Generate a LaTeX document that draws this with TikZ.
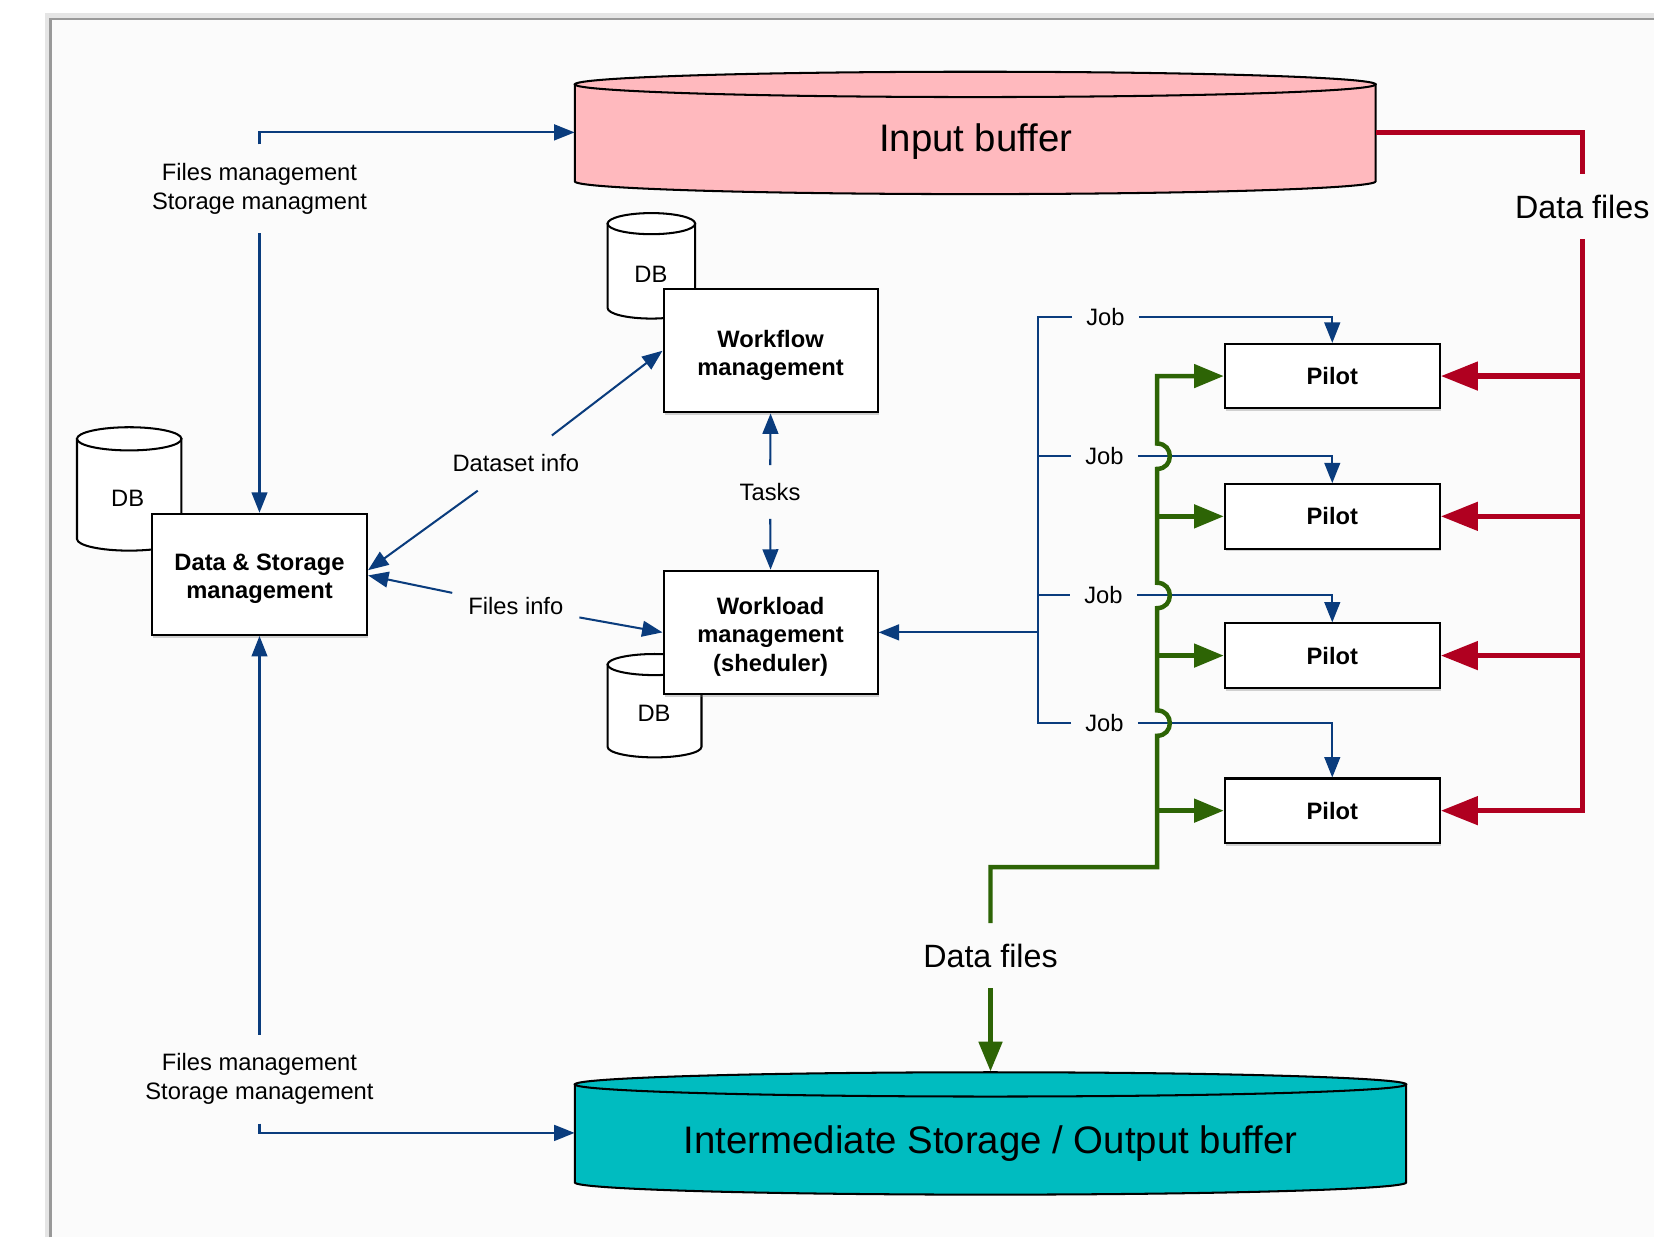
\documentclass[tikz,border=0pt]{standalone}
\usepackage{fontspec}
\setmainfont{Liberation Sans}
\usetikzlibrary{arrows.meta,shadows,calc}

\definecolor{flowblue}{HTML}{0A3C7D}
\definecolor{flowred}{HTML}{B00020}
\definecolor{flowgreen}{HTML}{2D6405}
\definecolor{inpink}{HTML}{FFB9BE}
\definecolor{outteal}{HTML}{00BCC0}
\definecolor{pagebg}{HTML}{FBFBFB}

% cylinder: #1 fill, #2 left x, #3 right x, #4 top centre y, #5 bottom centre y, #6 half height of the ends
\newcommand{\drumshape}[6]{%
  \pgfmathsetmacro{\drumrx}{(#3-#2)/2}%
  \pgfmathsetmacro{\drumcx}{(#3+#2)/2}%
  \filldraw[drumline, fill=#1] (#2,#4) -- (#2,#5)
    arc[start angle=180, end angle=0, x radius=\drumrx, y radius=#6] -- (#3,#4) -- cycle;
  \filldraw[drumline, fill=#1] (\drumcx,#4) ellipse[x radius=\drumrx, y radius=#6];
}

\tikzset{
  drumline/.style={draw=black, line width=1.1pt},
  txt/.style={font=\fontsize{12.8}{15.6}\selectfont, inner sep=0pt},
  bigtxt/.style={font=\fontsize{20.7}{24}\selectfont, inner sep=0pt},
  dftxt/.style={font=\fontsize{17.4}{20}\selectfont, inner xsep=0pt},
  box/.style={draw=black, line width=1.1pt, fill=white, align=center, inner sep=0pt,
    font=\fontsize{12.8}{15.3}\selectfont\bfseries,
    drop shadow={shadow xshift=0.6pt, shadow yshift=-1.6pt, opacity=0.35}},
  boxtxt/.style={align=center, inner sep=0pt, font=\fontsize{12.8}{15.3}\selectfont\bfseries},
  pilotbox/.style={box, minimum width=4.08cm, minimum height=1.22cm},
  bline/.style={draw=flowblue, line width=1.1pt},
  btip/.tip={Triangle[length=11pt, width=8.5pt]},
  barrow/.style={bline, -btip},
  gline/.style={draw=flowgreen, line width=2.4pt},
  gtip/.tip={Triangle[length=16pt, width=12.5pt]},
  garrow/.style={gline, -gtip},
  rline/.style={draw=flowred, line width=3pt},
  rtip/.tip={Triangle[length=20pt, width=15pt]},
  rarrow/.style={rline, -rtip},
}

\begin{document}
\begin{tikzpicture}[x=0.02cm, y=-0.02cm]
\useasboundingbox (0,0) rectangle (1568,1173);
\fill[white] (0,0) rectangle (1568,1173);

% sheet
\fill[pagebg] (48,18) rectangle (1568,1173);
\draw[black!10, line width=3pt] (45,1173) -- (45,15) -- (1568,15);
\draw[black!40, line width=1.4pt] (48,1173) -- (48,18) -- (1568,18);

% storage drums
\drumshape{inpink}{545}{1304}{80}{172}{12}
\drumshape{outteal}{545}{1333}{1028}{1121}{11.5}
\drumshape{white}{73}{172}{416}{511}{11}
\drumshape{white}{576}{659}{212}{292}{10}
\drumshape{white}{576}{665}{630}{708}{10}

\node[minimum width=15.18cm, minimum height=2.3cm, inner sep=0pt] (inbuf) at (924.5,125.5) {};
\node[bigtxt] (inbuflabel) at (925,134) {Input buffer};
\node[minimum width=15.76cm, minimum height=2.32cm, inner sep=0pt] (outbuf) at (939,1074) {};
\node[bigtxt] (outbuflabel) at (939,1084) {Intermediate Storage / Output buffer};

\node[txt] (db1) at (121,472) {DB};
\node[txt] (db2) at (617,260) {DB};
\node[txt] (db3) at (620,676) {DB};

% components
\node[box, minimum width=4.08cm, minimum height=2.3cm] (ds) at (246,544.5) {};
\node[boxtxt] (dstext) at ([yshift=-2.5pt]ds.center) {Data \& Storage\\management};
\node[box, minimum width=4.06cm, minimum height=2.34cm] (wf) at (730.5,332.5) {};
\node[boxtxt] (wftext) at ([yshift=-2.5pt]wf.center) {Workflow\\management};
\node[box, minimum width=4.06cm, minimum height=2.34cm] (wl) at (730.5,599.5) {};
\node[boxtxt] (wltext) at ([yshift=-2.3pt]wl.center) {Workload\\management\\(sheduler)};

\node[pilotbox] (p1) at (1263,356.5) {Pilot};
\node[pilotbox] (p2) at (1263,489.5) {Pilot};
\node[pilotbox] (p3) at (1263,621.5) {Pilot};
\node[pilotbox] (p4) at (1263,768.5) {Pilot};

% connector labels
\node[txt, align=center, inner ysep=10pt] (fmtop) at (246,179) {Files management\\Storage managment};
\node[txt, align=center, inner ysep=10pt] (fmbot) at (246,1023) {Files management\\Storage management};
\node[txt, inner xsep=2pt, inner ysep=10pt] (dsinfo) at (489,439) {Dataset info};
\node[txt, inner xsep=8.5pt, inner ysep=5pt] (finfo) at (489,574.5) {Files info};
\node[txt, inner ysep=9.6pt] (tasks) at (730,466.5) {Tasks};
\node[txt, inner xsep=7.5pt, inner ysep=3pt] (job1) at (1048,300.5) {Job};
\node[txt, inner xsep=7.5pt, inner ysep=3pt] (job2) at (1047,432.5) {Job};
\node[txt, inner xsep=7.5pt, inner ysep=3pt] (job3) at (1046,564.5) {Job};
\node[txt, inner xsep=7.5pt, inner ysep=3pt] (job4) at (1047,685.5) {Job};
\node[dftxt, inner ysep=11pt] (dfin) at (1500,196) {Data files};
\node[dftxt, inner ysep=11pt] (dfout) at (939,906) {Data files};

% file and storage management
\draw[barrow] (fmtop.north) |- (inbuf.west);
\draw[barrow] (fmtop.south) -- (ds.north);
\draw[barrow] (fmbot.north) -- (ds.south);
\draw[barrow] (fmbot.south) |- (outbuf.west);

% information exchange between services
\draw[barrow] (dsinfo) -- (wf.west);
\draw[barrow] (dsinfo) -- ($(ds.east)+(0,-4)$);
\draw[barrow] (finfo) -- ($(ds.east)+(0,1)$);
\draw[barrow] (finfo) -- (wl.west);
\draw[barrow] (tasks) -- (wf.south);
\draw[barrow] (tasks) -- (wl.north);

% job dispatch bus
\coordinate (bus) at (984,599.5);
\draw[barrow] (bus) -- (wl.east);
\draw[bline] (job1.west) -| (bus);
\draw[bline] (job4.west) -| (bus);
\draw[bline] (job2.west) -- (job2.west -| bus);
\draw[bline] (job3.west) -- (job3.west -| bus);
\draw[barrow] (job1.east) -| (p1.north);
\draw[barrow] (job2.east) -| (p2.north);
\draw[barrow] (job3.east) -| (p3.north);
\draw[barrow] (job4.east) -| (p4.north);

% output data path (jumps over the job lines)
\coordinate (gx) at (1097,0);
\coordinate (gcorner) at (1097,822);
\draw[gline, gtip-, line join=miter] (p1.west) -- (p1.west -| gx)
  -- ($(job2.west -| gx)+(0,-12)$) .. controls +(16,0) and +(16,0) .. ($(job2.west -| gx)+(0,12)$)
  -- ($(job3.west -| gx)+(0,-12)$) .. controls +(16,0) and +(16,0) .. ($(job3.west -| gx)+(0,12)$)
  -- ($(job4.west -| gx)+(0,-12)$) .. controls +(16,0) and +(16,0) .. ($(job4.west -| gx)+(0,12)$)
  -- (gcorner) -| (dfout.north);
\draw[garrow] (p2.west -| gx) -- (p2.west);
\draw[garrow] (p3.west -| gx) -- (p3.west);
\draw[garrow] (p4.west -| gx) -- (p4.west);
\draw[garrow] (dfout.south) -- (outbuf.north);

% input data path
\draw[rline] (inbuf.east) -| (dfin.north);
\draw[rline, rtip-] (p4.east) -| (dfin.south);
\draw[rarrow] (p1.east -| dfin) -- (p1.east);
\draw[rarrow] (p2.east -| dfin) -- (p2.east);
\draw[rarrow] (p3.east -| dfin) -- (p3.east);
\end{tikzpicture}
\end{document}
